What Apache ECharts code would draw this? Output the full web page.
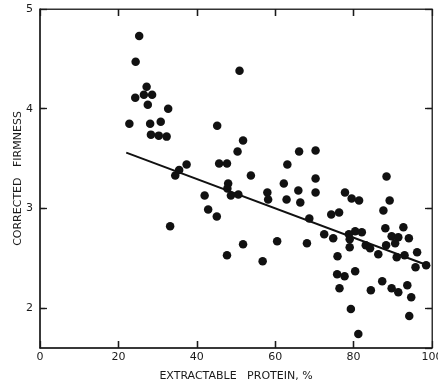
<!DOCTYPE html>
<html><head><meta charset="utf-8">
<script src="https://cdn.jsdelivr.net/npm/echarts@6/dist/echarts.min.js"></script>
<style>html,body{margin:0;padding:0;background:#fff}#c{width:438px;height:383px}</style>
</head><body><div id="c"></div>
<script>
var xTicks = [0, 20, 40, 60, 80, 100];
var yTicks = [2, 3, 4, 5];
var protein = [25.3,24.4,27.2,26.5,28.6,24.3,27.5,32.7,22.8,28.1,30.8,45.2,28.3,30.3,32.3,35.5,34.5,37.4,45.7,47.7,42.0,42.9,45.1,33.2,50.9,51.8,50.4,66.1,70.3,63.1,53.8,88.4,70.3,48.0,62.2,65.9,70.3,58.0,77.8,79.5,81.4,89.2,47.8,48.7,50.6,58.2,62.9,66.4,74.3,68.7,72.5,74.8,60.5,76.3,87.6,88.1,92.7,80.4,82.1,78.8,89.7,91.4,94.1,79.0,83.1,84.2,79.0,88.3,90.6,86.3,93.0,91.0,96.2,98.5,95.8,75.9,75.8,77.7,80.4,76.4,84.4,87.3,89.7,91.4,93.7,94.7,79.3,94.2,81.2,47.7,51.8,56.8,68.1];
var firmness = [4.73,4.47,4.22,4.14,4.14,4.11,4.04,4.00,3.85,3.85,3.87,3.83,3.74,3.73,3.72,3.385,3.33,3.44,3.45,3.45,3.13,2.99,2.92,2.82,4.38,3.68,3.57,3.57,3.58,3.44,3.33,3.32,3.30,3.25,3.25,3.18,3.16,3.16,3.16,3.10,3.08,3.08,3.20,3.13,3.14,3.09,3.09,3.06,2.94,2.90,2.74,2.70,2.67,2.96,2.98,2.80,2.81,2.77,2.76,2.74,2.72,2.71,2.70,2.69,2.63,2.60,2.61,2.63,2.65,2.54,2.53,2.51,2.56,2.43,2.41,2.52,2.34,2.32,2.37,2.20,2.18,2.27,2.20,2.16,2.23,2.11,1.99,1.92,1.74,2.53,2.64,2.47,2.65];
var fitX = [22, 99.5];
var fitY = [3.56, 2.42];

var xMin = 0, xMax = 100, yMin = 1.6, yMax = 5;
var pts = protein.map(function(x,i){return [x, firmness[i]];});
var fit = fitX.map(function(x,i){return [x, fitY[i]];});
var ink = '#1a1a1a';
var font = 'DejaVu Sans';
var yLabel = function(v){ return yTicks.indexOf(Math.round(v*10)/10) >= 0 ? String(v) : ''; };
function tick(){ return {show:true, inside:true, length:7, lineStyle:{color:ink, width:1.3}}; }

// inward tick marks on all four sides, placed in data units through the axis scales
var tx = 0.07 * (yMax - yMin) / 3.4;   // ~7px vertical tick length in y units
var ty = 1.3 * (xMax - xMin) / 100;     // ~5px horizontal tick length in x units
var tickSegs = [];
xTicks.slice(1, -1).forEach(function(v){
  tickSegs.push([{coord:[v, yMin]}, {coord:[v, yMin + tx]}]);
  tickSegs.push([{coord:[v, yMax]}, {coord:[v, yMax - tx]}]);
});
yTicks.slice(0, -1).forEach(function(v){
  tickSegs.push([{coord:[xMin, v]}, {coord:[xMin + ty, v]}]);
  tickSegs.push([{coord:[xMax, v]}, {coord:[xMax - ty, v]}]);
});

var chart = echarts.init(document.getElementById('c'), null, {renderer:'canvas'});
chart.setOption({
  animation:false,
  grid:{left:40, right:6, top:9, bottom:35, containLabel:false, outerBoundsMode:'none',
        show:true, borderColor:'#333', borderWidth:1, backgroundColor:'transparent'},
  xAxis:[{
    type:'value', min:xMin, max:xMax, interval:20,
    name:'EXTRACTABLE   PROTEIN, %', nameLocation:'middle', nameGap:23, nameMoveOverlap:false,
    nameTextStyle:{color:ink, fontFamily:font, fontSize:11},
    axisLine:{show:true, onZero:false, lineStyle:{color:ink, width:1.5}},
    axisTick:tick(),
    axisLabel:{color:ink, fontFamily:font, fontSize:11, margin:4},
    splitLine:{show:false}
  },{
    type:'value', min:xMin, max:xMax, interval:20, position:'top',
    axisLine:{show:true, onZero:false, lineStyle:{color:'#333', width:1}},
    axisTick:tick(),
    axisLabel:{show:false}, splitLine:{show:false}
  }],
  yAxis:[{
    type:'value', min:yMin, max:yMax, splitNumber:4,
    name:'CORRECTED   FIRMNESS', nameLocation:'middle', nameGap:16, nameRotate:90, nameMoveOverlap:false,
    nameTextStyle:{color:ink, fontFamily:font, fontSize:11},
    axisLine:{show:true, onZero:false, lineStyle:{color:ink, width:1.5}},
    axisTick:tick(),
    axisLabel:{color:ink, fontFamily:font, fontSize:11, margin:7, showMinLabel:false, formatter:yLabel},
    splitLine:{show:false}
  },{
    type:'value', min:yMin, max:yMax, splitNumber:4, position:'right',
    axisLine:{show:true, onZero:false, lineStyle:{color:'#333', width:1}},
    axisTick:tick(),
    axisLabel:{show:false}, splitLine:{show:false}
  }],
  series:[{
    type:'scatter', xAxisIndex:0, yAxisIndex:0, data:pts, symbol:'circle', symbolSize:8.5,
    itemStyle:{color:'#111', opacity:1},
    markLine:{silent:true, symbol:['none','none'], animation:false,
      label:{show:false}, emphasis:{disabled:true},
      lineStyle:{color:ink, width:1.3, type:'solid'}, data:tickSegs}
  },{
    type:'line', xAxisIndex:1, yAxisIndex:1, data:fit, symbol:'none', lineStyle:{color:'#111', width:2}
  }]
});
</script></body></html>
